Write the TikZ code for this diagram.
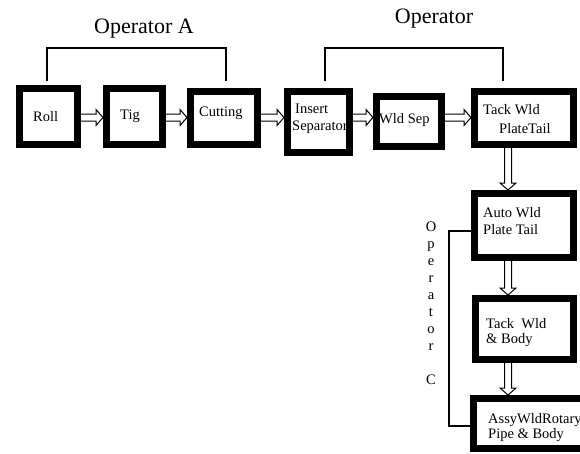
\documentclass[tikz,border=0pt]{standalone}
\usepackage{fontspec}
\setmainfont{Liberation Serif}
\usetikzlibrary{calc,backgrounds}

% hollow block arrow pointing right, from #1 to tip #2
\newcommand\flowright[2]{%
  \draw[hollow] ($(#1)+(-2,-3.5)$) -- ($(#2)+(-7,-3.5)$) -- ($(#2)+(-7,-8)$)
    -- (#2) -- ($(#2)+(-7,8)$) -- ($(#2)+(-7,3.5)$) -- ($(#1)+(-2,3.5)$) -- cycle;}
% hollow block arrow pointing down, from #1 to tip #2
\newcommand\flowdown[2]{%
  \draw[hollow] ($(#1)+(-3.5,-2)$) -- ($(#2)+(-3.5,-7)$) -- ($(#2)+(-8,-7)$)
    -- (#2) -- ($(#2)+(8,-7)$) -- ($(#2)+(3.5,-7)$) -- ($(#1)+(3.5,-2)$) -- cycle;}

\begin{document}
\begin{tikzpicture}[x=1pt,y=-1pt,
  stage/.style={draw=black, line width=7pt, fill=white, inner sep=0pt},
  boxtext/.style={anchor=base west, inner sep=0pt, font=\fontsize{14.5}{17}\selectfont},
  optext/.style={anchor=base, inner sep=0pt, font=\fontsize{22}{26}\selectfont},
  bracket/.style={draw=black, line width=1.3pt},
  hollow/.style={draw=black, line width=1pt, fill=white, line join=miter}]

\useasboundingbox (0,0) rectangle (580,453);
\clip (0,0) rectangle (580,453);

% process stages
\node[stage, minimum width=58pt, minimum height=56pt] (roll)  at (48.5,116.5) {};
\node[stage, minimum width=56pt, minimum height=56pt] (tig)   at (134.5,116.5) {};
\node[stage, minimum width=67pt, minimum height=53pt] (cut)   at (224,118) {};
\node[stage, minimum width=62pt, minimum height=61pt] (ins)   at (318.5,122) {};
\node[stage, minimum width=65pt, minimum height=50pt] (wld)   at (409,121.5) {};
\node[stage, minimum width=99pt, minimum height=53pt] (tack)  at (524,118) {};
\node[stage, minimum width=99pt, minimum height=64pt] (auto)  at (524,225.5) {};
\node[stage, minimum width=98pt, minimum height=61pt] (tbody) at (524.5,329) {};
\node[stage, minimum width=123pt, minimum height=50pt] (assy) at (535,423.5) {};

% stage labels
\node[boxtext] (rollT)  at (33,121) {Roll};
\node[boxtext] (tigT)   at (120,119.5) {Tig};
\node[boxtext] (cutT)   at (199,116) {Cutting};
\node[boxtext] (insT1)  at (295,113) {Insert};
\node[boxtext] (insT2)  at (292,130) {Separator};
\node[boxtext] (wldT)   at (379,123) {Wld Sep};
\node[boxtext] (tackT1) at (483,114) {Tack Wld};
\node[boxtext] (tackT2) at (499,133) {PlateTail};
\node[boxtext] (autoT1) at (483,217) {Auto Wld};
\node[boxtext] (autoT2) at (483,234) {Plate Tail};
\node[boxtext] (tbT1)   at (486,328) {Tack~~Wld};
\node[boxtext] (tbT2)   at (486,343) {\& Body};
\node[boxtext] (assyT1) at (488,423) {AssyWldRotary};
\node[boxtext] (assyT2) at (488,438) {Pipe \& Body};

% flow arrows
\coordinate (row) at (0,117.5);
\coordinate (col) at (508,0);
\begin{scope}[on background layer]
  \flowright{roll.east |- row}{tig.west |- row}
  \flowright{tig.east |- row}{cut.west |- row}
  \flowright{cut.east |- row}{ins.west |- row}
  \flowright{ins.east |- row}{wld.west |- row}
  \flowright{wld.east |- row}{tack.west |- row}
  \flowdown{tack.south -| col}{auto.north -| col}
  \flowdown{auto.south -| col}{tbody.north -| col}
  \flowdown{tbody.south -| col}{assy.north -| col}
\end{scope}

% operator brackets
\coordinate (a1) at (47,81);  \coordinate (a2) at (226,81);
\coordinate (b1) at (325,81); \coordinate (b2) at (503,81);
\draw[bracket] (a1) |- (144,48) -| (a2);
\draw[bracket] (b1) |- (414,48) -| (b2);
\coordinate (c1) at (449,231);
\coordinate (c2) at (449,426);
\draw[bracket] (auto.west |- c1) -- (c1) -- (c2) -- (assy.west |- c2);

\node[optext] (opA) at (144,33) {Operator A};
\node[optext] (opB) at (434,23) {Operator};
\node[font=\fontsize{14.5}{17}\selectfont, align=center, anchor=north, inner sep=0pt]
  (opC) at (431,222) {O\\p\\e\\r\\a\\t\\o\\r\\[17pt]C};
\end{tikzpicture}
\end{document}
